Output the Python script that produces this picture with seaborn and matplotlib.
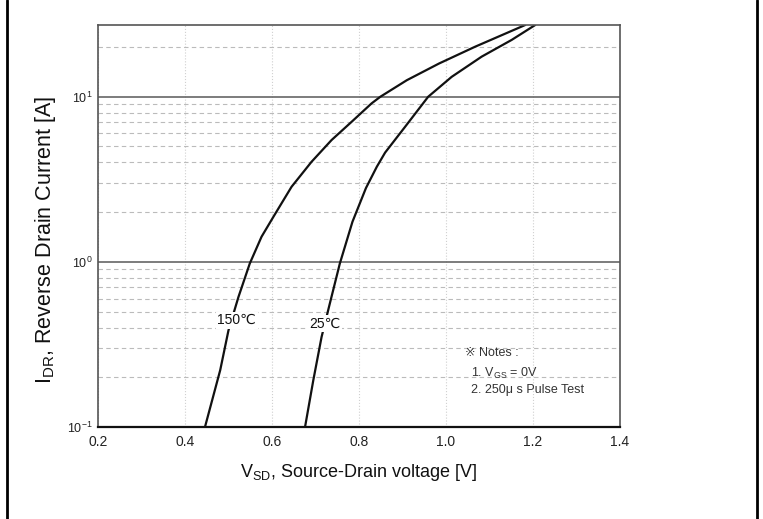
import matplotlib
matplotlib.use("Agg")
import matplotlib.pyplot as plt
from matplotlib.lines import Line2D
from matplotlib.ticker import LogLocator, MultipleLocator, FixedLocator
import seaborn as sns
import pandas as pd

# values
v_150 = [0.446, 0.481, 0.500, 0.523, 0.549, 0.576, 0.603, 0.645, 0.691, 0.737,
         0.783, 0.829, 0.849, 0.910, 0.984, 1.067, 1.182]
i_150 = [0.100, 0.221, 0.385, 0.614, 0.978, 1.42, 1.87, 2.85, 4.04, 5.47,
         7.05, 9.12, 10.0, 12.6, 15.9, 20.1, 27.2]
v_25 = [0.676, 0.695, 0.714, 0.733, 0.756, 0.785, 0.816, 0.841, 0.860, 0.906,
        0.959, 1.013, 1.082, 1.151, 1.205]
i_25 = [0.100, 0.192, 0.351, 0.560, 0.978, 1.75, 2.80, 3.77, 4.59, 6.58,
        10.0, 13.2, 17.5, 22.1, 27.2]

x_ticks = [0.2, 0.4, 0.6, 0.8, 1.0, 1.2, 1.4]
x_labels = ["0.2", "0.4", "0.6", "0.8", "1.0", "1.2", "1.4"]

df = pd.concat([
    pd.DataFrame({"V": v_150, "I": i_150, "T": "150"}),
    pd.DataFrame({"V": v_25, "I": i_25, "T": "25"}),
])

sns.set_style("white")
plt.rcParams["font.family"] = ["Liberation Sans", "DejaVu Sans"]
plt.rcParams["mathtext.fontset"] = "custom"
plt.rcParams["mathtext.rm"] = "Liberation Sans"

fig = plt.figure(figsize=(7.63, 5.19), dpi=100)
ax = fig.add_axes([0.1284, 0.1773, 0.6842, 0.7745])

sns.lineplot(data=df, x="V", y="I", hue="T", palette=["#111111", "#111111"],
             linewidth=1.6, legend=False, ax=ax, sort=False, estimator=None)
for ln in ax.lines:
    ln.set_solid_joinstyle("round")

ax.set_yscale("log")
ax.set_xlim(0.2, 1.4)
ax.set_ylim(0.1, 27.2)

ax.xaxis.set_major_locator(FixedLocator(x_ticks))
ax.set_xticklabels(x_labels)
ax.xaxis.set_minor_locator(MultipleLocator(0.1))
ax.yaxis.set_major_locator(FixedLocator([0.1, 1, 10]))
ax.set_yticklabels([r"$10^{-1}$", r"$10^{0}$", r"$10^{1}$"])
ax.yaxis.set_minor_locator(LogLocator(base=10, subs=range(2, 10)))

ax.tick_params(axis="both", which="both", direction="in", colors="#333333",
               labelcolor="#222222")
ax.tick_params(axis="x", which="major", length=5, width=1, labelsize=10, pad=6)
ax.tick_params(axis="x", which="minor", length=3, width=1)
ax.tick_params(axis="y", which="major", length=4, width=1, labelsize=9, pad=4)
ax.tick_params(axis="y", which="minor", length=3, width=1, labelleft=False)

ax.grid(True, axis="x", which="major", color="#d0d0d0", linewidth=0.8, linestyle=":")
ax.grid(True, axis="y", which="major", color="#666666", linewidth=1.2)
ax.grid(True, axis="y", which="minor", color="#bbbbbb", linewidth=0.8, linestyle=(0, (4, 3)))
ax.set_axisbelow(True)

for s in ["top", "right", "left"]:
    ax.spines[s].set_color("#555555")
    ax.spines[s].set_linewidth(1.2)
ax.spines["bottom"].set_color("#111111")
ax.spines["bottom"].set_linewidth(1.6)

ax.set_xlabel(r"V$_{\mathregular{SD}}$, Source-Drain voltage [V]", fontsize=13,
              color="#111111", labelpad=9)
ax.set_ylabel(r"I$_{\mathregular{DR}}$, Reverse Drain Current [A]", fontsize=15.5,
              color="#111111")
ax.yaxis.set_label_coords(-0.077, 0.465)

# curve labels sitting on the lines
lab = dict(fontsize=10, color="#111111", ha="center", va="center",
           bbox=dict(facecolor="white", edgecolor="none", pad=1.0))
ax.text(0.519, 0.443, "150\u2103", **lab)
ax.text(0.722, 0.423, "25\u2103", **lab)

note = dict(fontsize=9, color="#333333", va="center")
ax.text(1.044, 0.28, "\u203b Notes :", **note)
ax.text(1.058, 0.211, r"1. V$_{\mathregular{GS}}$ = 0V", **note)
ax.text(1.058, 0.167, "2. 250\u03bc s Pulse Test", **note)

# outer frame lines at the sides
fig.add_artist(Line2D([7 / 763, 7 / 763], [0, 1], color="black", linewidth=2,
                      transform=fig.transFigure))
fig.add_artist(Line2D([757 / 763, 757 / 763], [0, 1], color="black", linewidth=2,
                      transform=fig.transFigure))

fig.savefig("out.png", dpi=100)
